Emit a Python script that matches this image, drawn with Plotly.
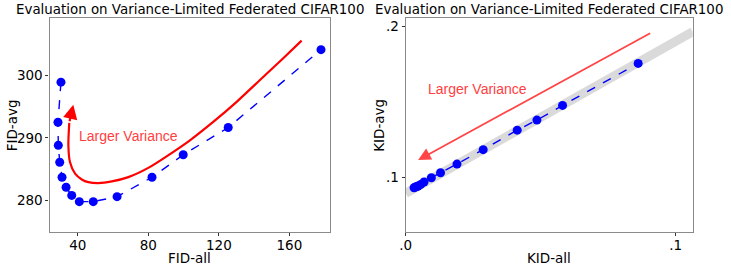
import plotly.graph_objects as go

# ---------------- data ----------------
fid_all = [30.5, 28.8, 29.0, 29.8, 31.1, 33.4, 36.6, 40.9, 48.8, 62.3, 82.1, 99.8, 125.3, 177.9]
fid_avg = [298.9, 292.5, 288.8, 286.1, 283.7, 282.1, 280.8, 279.8, 279.8, 280.6, 283.7, 287.3, 291.65, 304.1]

kid_all = [0.0031, 0.0036, 0.0041, 0.0046, 0.0056, 0.0068, 0.0095, 0.0129, 0.0190, 0.0287, 0.0413, 0.0486, 0.0581, 0.0861]
kid_avg = [0.0934, 0.0939, 0.0942, 0.0945, 0.0956, 0.0972, 0.1000, 0.1033, 0.1090, 0.1185, 0.1314, 0.1380, 0.1477, 0.1754]

# red curved arrow (left panel)
curve_x = [166.9, 156.5, 143.3, 130.1, 116.8, 103.6, 90.4, 80.0, 68.7, 59.3, 51.7, 46.0, 42.3, 38.5, 35.6, 34.7, 35.2]
curve_y = [305.55, 302.73, 299.25, 295.76, 292.55, 289.61, 287.05, 285.2, 283.72, 283.03, 282.76, 282.92, 283.35, 284.27, 286.13, 288.81, 292.4]
curve_tip = (37.5, 295.3)

# gray trend band (right panel)
band_x = [0.0, 0.1063]
band_y = [0.0897, 0.1963]

# red straight arrow (right panel): tail -> head
arrow_tail = (0.0911, 0.1958)
arrow_head = (0.0046, 0.1117)

left_xticks = [40, 80, 120, 160]
left_yticks = [280, 290, 300]
right_xticks = [0.0, 0.1]
right_xticktext = [".0", ".1"]
right_yticks = [0.1, 0.2]
right_yticktext = [".1", ".2"]

title_text = "Evaluation on Variance-Limited Federated CIFAR100"
W, H = 731, 271

fig = go.Figure()

# left
fig.add_trace(go.Scatter(x=curve_x, y=curve_y, mode="lines", line=dict(color="#ff0000", width=2.2, shape="spline", smoothing=0.7),
                         xaxis="x", yaxis="y", showlegend=False, hoverinfo="skip"))
fig.add_trace(go.Scatter(x=fid_all, y=fid_avg, mode="lines+markers",
                         line=dict(color="#0000ff", width=1.4, dash="dash"),
                         marker=dict(color="#0000ff", size=9),
                         xaxis="x", yaxis="y", showlegend=False))
# right
fig.add_trace(go.Scatter(x=band_x, y=band_y, mode="lines", line=dict(color="#dadada", width=9),
                         xaxis="x2", yaxis="y2", showlegend=False, hoverinfo="skip"))
fig.add_trace(go.Scatter(x=kid_all, y=kid_avg, mode="lines+markers",
                         line=dict(color="#0000ff", width=1.4, dash="dash"),
                         marker=dict(color="#0000ff", size=9),
                         xaxis="x2", yaxis="y2", showlegend=False))

font_main = "DejaVu Sans"
axis_common = dict(showline=True, mirror=True, linecolor="#8a8a8a", linewidth=1.2,
                   ticks="outside", ticklen=3, tickcolor="#333333", tickwidth=1,
                   showgrid=False, zeroline=False, automargin=False,
                   tickfont=dict(family=font_main, size=13.5, color="black"))

xl0, xl1 = 49.5 / W, 330 / W
xr0, xr1 = 405.7 / W, 692.7 / W
y0, y1 = 1 - 232.3 / H, 1 - 18.4 / H

fig.update_layout(
    template="none",
    font=dict(family=font_main, color="black"),
    width=W, height=H, margin=dict(l=0, r=0, t=0, b=0, pad=0),
    paper_bgcolor="white", plot_bgcolor="white",
    xaxis=dict(domain=[xl0, xl1], range=[24, 183], tickvals=left_xticks, anchor="y",
               ticklabelstandoff=-3, **axis_common),
    yaxis=dict(domain=[y0, y1], range=[274.9, 309.1], tickvals=left_yticks, anchor="x", **axis_common),
    xaxis2=dict(domain=[xr0, xr1], range=[0, 0.1063], tickvals=right_xticks, ticktext=right_xticktext,
                anchor="y2", ticklabelstandoff=-3, **axis_common),
    yaxis2=dict(domain=[y0, y1], range=[0.064, 0.2051], tickvals=right_yticks, ticktext=right_yticktext,
                anchor="x2", **axis_common),
)

ann = []
# titles
for cx in [(xl0 + xl1) / 2, (xr0 + xr1) / 2]:
    ann.append(dict(text=title_text, xref="paper", yref="paper", x=cx, y=1 - 10 / H,
                    xanchor="center", yanchor="middle", showarrow=False,
                    font=dict(family=font_main, size=13.4, color="black")))
# axis titles
ann.append(dict(text="FID-all", xref="paper", yref="paper", x=(xl0 + xl1) / 2, y=1 - 258 / H,
                xanchor="center", yanchor="middle", showarrow=False, font=dict(family=font_main, size=13.5, color="black")))
ann.append(dict(text="KID-all", xref="paper", yref="paper", x=(xr0 + xr1) / 2, y=1 - 258 / H,
                xanchor="center", yanchor="middle", showarrow=False, font=dict(family=font_main, size=13.5, color="black")))
ann.append(dict(text="FID-avg", xref="paper", yref="paper", x=12 / W, y=(y0 + y1) / 2, textangle=-90,
                xanchor="center", yanchor="middle", showarrow=False, font=dict(family=font_main, size=13.5, color="black")))
ann.append(dict(text="KID-avg", xref="paper", yref="paper", x=379.5 / W, y=(y0 + y1) / 2, textangle=-90,
                xanchor="center", yanchor="middle", showarrow=False, font=dict(family=font_main, size=13.5, color="black")))
# red labels
ann.append(dict(text="Larger Variance", xref="x", yref="y", x=39.6, y=290.3, xanchor="left", yanchor="middle",
                showarrow=False, font=dict(family="Liberation Sans", size=14, color="#ff4040")))
ann.append(dict(text="Larger Variance", xref="x2", yref="y2", x=0.0077, y=0.1583, xanchor="left", yanchor="middle",
                showarrow=False, font=dict(family="Liberation Sans", size=14, color="#ff4040")))
# arrowheads
ann.append(dict(text="", xref="x", yref="y", x=curve_tip[0], y=curve_tip[1], axref="x", ayref="y",
                ax=curve_x[-1], ay=curve_y[-1], showarrow=True, arrowhead=2, arrowsize=1.3,
                arrowwidth=2.2, arrowcolor="#ff0000", standoff=0, startstandoff=0))
ann.append(dict(text="", xref="x2", yref="y2", x=arrow_head[0], y=arrow_head[1], axref="x2", ayref="y2",
                ax=arrow_tail[0], ay=arrow_tail[1], showarrow=True, arrowhead=2, arrowsize=1.4,
                arrowwidth=1.8, arrowcolor="#ff4545", standoff=0, startstandoff=0))
fig.update_layout(annotations=ann)

fig.write_html("out.html", config={"displayModeBar": False},
               post_script="document.body.style.margin='0';document.body.style.padding='0';")
